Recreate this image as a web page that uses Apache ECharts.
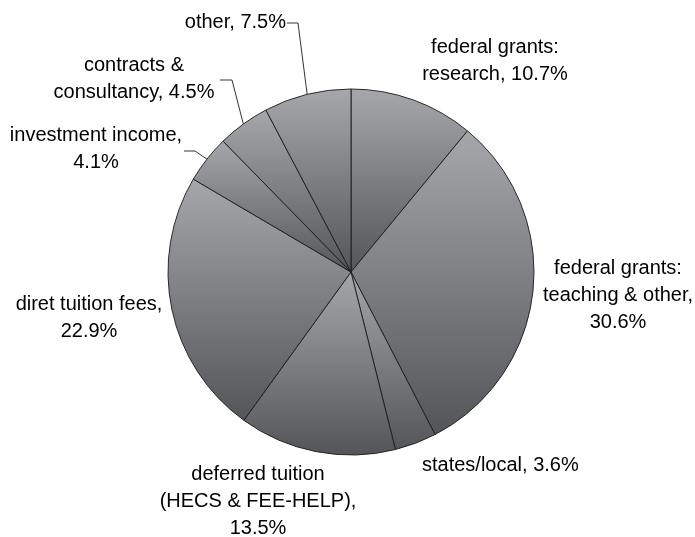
<!DOCTYPE html>
<html>
<head>
<meta charset="utf-8">
<style>
  html, body { margin: 0; padding: 0; background: #ffffff; }
  #chart { width: 695px; height: 537px; }
</style>
<script src="https://cdn.jsdelivr.net/npm/echarts@6/dist/echarts.min.js"></script>
</head>
<body>
<div id="chart"></div>
<script>
// Revenue sources, clockwise from 12 o'clock
const categories = [
  'federal grants:\nresearch',
  'federal grants:\nteaching & other',
  'states/local',
  'deferred tuition\n(HECS & FEE-HELP)',
  'diret tuition fees',
  'investment income',
  'contracts &\nconsultancy',
  'other'
];
const shares = [10.7, 30.6, 3.6, 13.5, 22.9, 4.1, 4.5, 7.5];
// whether the value goes on its own line under the name
const valueOnNewLine = [false, true, false, true, true, true, false, false];

// label placement: anchor point, alignment, and optional leader-line elbow
const labelPlacement = [
  { x: 495, y: 61,  align: 'center' },
  { x: 618, y: 295, align: 'center' },
  { x: 422, y: 465, align: 'left' },
  { x: 258, y: 501, align: 'center' },
  { x: 89,  y: 318, align: 'center' },
  { x: 96,  y: 149, align: 'center', leader: [[195, 151], [184, 151]] },
  { x: 134, y: 79,  align: 'center', leader: [[232, 80], [220, 80]] },
  { x: 286, y: 22,  align: 'right',  leader: [[298, 23], [287, 23]] }
];

const chart = echarts.init(document.getElementById('chart'), null, { renderer: 'canvas' });

const sliceFill = new echarts.graphic.LinearGradient(0, 0, 0, 1, [
  { offset: 0, color: '#a5a7ab' },
  { offset: 1, color: '#535558' }
]);

const data = categories.map((name, i) => ({
  name: name,
  value: shares[i],
  labelLine: { show: !!labelPlacement[i].leader }
}));

chart.setOption({
  animation: false,
  backgroundColor: '#ffffff',
  series: [{
    type: 'pie',
    center: [351, 272],
    radius: 183,
    startAngle: 90,
    clockwise: true,
    avoidLabelOverlap: false,
    data: data,
    itemStyle: {
      color: sliceFill,
      borderColor: '#1a1a1a',
      borderWidth: 0.9
    },
    label: {
      show: true,
      position: 'outside',
      color: '#000000',
      fontFamily: 'Liberation Sans, Arial, sans-serif',
      fontSize: 20,
      lineHeight: 27,
      formatter: (p) => p.name + (valueOnNewLine[p.dataIndex] ? ',\n' : ', ') + p.value + '%'
    },
    labelLine: {
      show: true,
      length: 10,
      length2: 10,
      lineStyle: { color: '#000000', width: 0.8 }
    },
    labelLayout: (params) => {
      const cfg = labelPlacement[params.dataIndex];
      const out = {
        x: cfg.x,
        y: cfg.y,
        align: cfg.align,
        verticalAlign: 'middle'
      };
      if (cfg.leader && params.labelLinePoints) {
        const edge = params.labelLinePoints[0];
        out.labelLinePoints = [edge, cfg.leader[0], cfg.leader[1]];
      }
      return out;
    },
    emphasis: { disabled: true }
  }]
});
</script>
</body>
</html>
